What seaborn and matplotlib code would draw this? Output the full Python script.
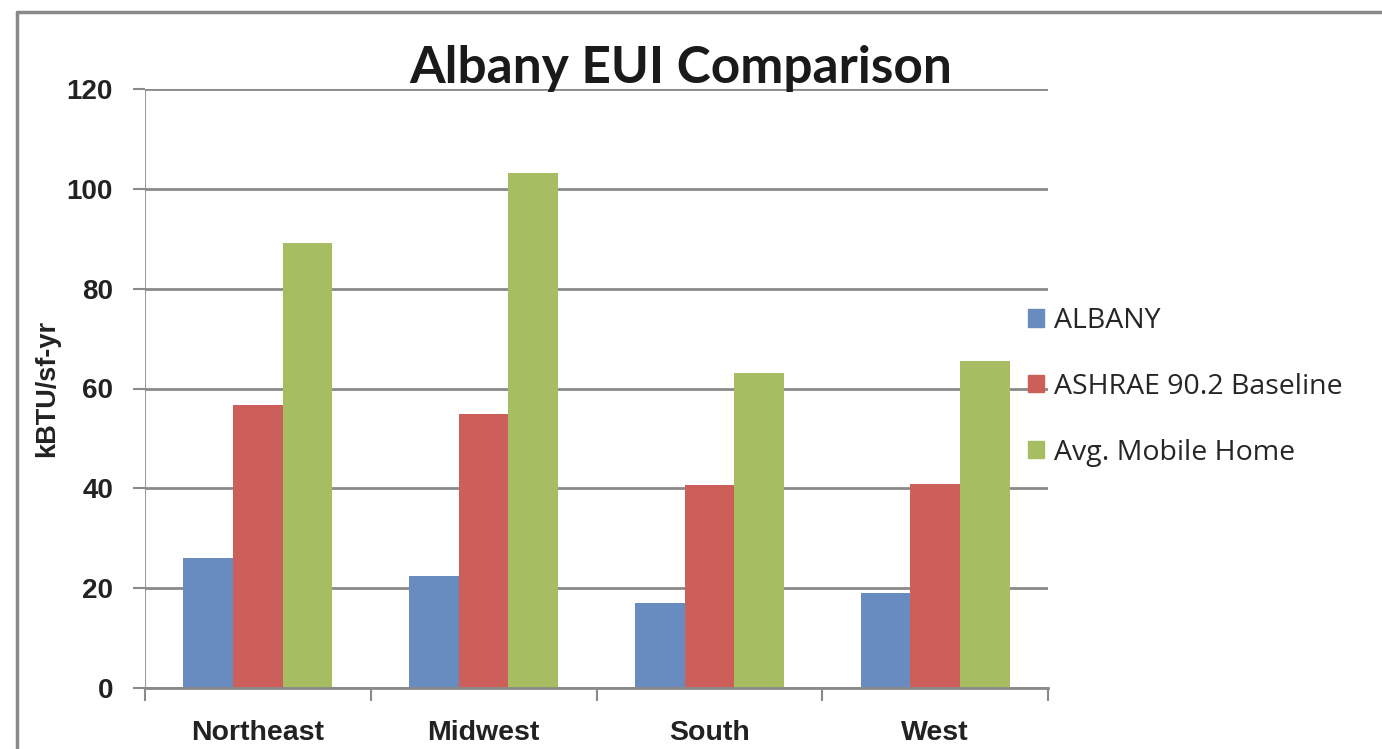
import matplotlib
matplotlib.use("Agg")
import matplotlib.pyplot as plt
import seaborn as sns
import pandas as pd
from matplotlib.lines import Line2D

regions = ["Northeast", "Midwest", "South", "West"]
series_names = ["ALBANY", "ASHRAE 90.2 Baseline", "Avg. Mobile Home"]
albany = [26.0, 22.5, 17.0, 19.0]
ashrae = [56.6, 54.8, 40.7, 40.8]
mobile = [89.2, 103.2, 63.2, 65.6]
yticks = [0, 20, 40, 60, 80, 100, 120]
colors = ["#688CBF", "#CD5F5B", "#A6BE61"]

rows = []
for name, vals in zip(series_names, [albany, ashrae, mobile]):
    for r, v in zip(regions, vals):
        rows.append({"Region": r, "Series": name, "Value": v})
df = pd.DataFrame(rows)

sns.set_theme(style="white")
plt.rcParams["font.family"] = ["Open Sans", "DejaVu Sans"]

fig = plt.figure(figsize=(13.82, 7.49), dpi=100)
ax = fig.add_axes([145/1382, 61/749, 903/1382, 599/749])

sns.barplot(data=df, x="Region", y="Value", hue="Series", order=regions,
            hue_order=series_names, palette=colors, width=0.66,
            saturation=1, ax=ax, legend=False, linewidth=0)

ax.set_ylim(0, 120)
ax.set_xlim(-0.5, 3.5)
ax.set_yticks(yticks)
ax.set_yticklabels([str(t) for t in yticks], fontsize=20, fontweight="bold",
                   color="#222222", family=["Liberation Sans"])
ax.yaxis.grid(True, color="#8a8a8a", linewidth=2)
ax.set_axisbelow(True)
for s in ["top", "right", "left"]:
    ax.spines[s].set_visible(False)
ax.spines["bottom"].set_color("#8a8a8a")
ax.spines["bottom"].set_linewidth(2)
ax.axvline(-0.5, color="#9a9a9a", linewidth=1.5, zorder=0)
ax.tick_params(axis="y", length=9, width=1.5, color="#8a8a8a", pad=14, left=True)
ax.set_xticks(range(len(regions)))
ax.set_xticklabels(regions, fontsize=20.5, fontweight="bold", color="#222222",
                   family=["Liberation Sans"])
ax.set_xticks([-0.5, 0.5, 1.5, 2.5, 3.5], minor=True)
ax.tick_params(axis="x", which="major", length=0, pad=23)
ax.tick_params(axis="x", which="minor", length=9, width=1.5, color="#8a8a8a",
               bottom=True)
ax.set_xlabel("")
ax.set_ylabel("kBTU/sf-yr", fontsize=19.5, fontweight="bold", color="#222222",
              family=["Liberation Sans"], labelpad=5)

fig.text(681/1382, 1 - 83/749, "Albany EUI Comparison", ha="center", va="baseline",
         fontsize=37, fontweight="bold", color="#1a1a1a", family=["Lato"])

handles = [plt.Rectangle((0, 0), 1, 1, color=c) for c in colors]
fig.legend(handles, series_names, loc="upper left",
           bbox_to_anchor=(1028/1382, 1 - 307/749), bbox_transform=fig.transFigure,
           frameon=False, fontsize=20.5, handlelength=0.55, handleheight=0.55,
           handletextpad=0.35, labelspacing=1.33, borderpad=0, borderaxespad=0)

# outer frame
fig.add_artist(Line2D([17/1382, 17/1382], [0, 1 - 12/749], transform=fig.transFigure,
                      color="#8a8a8a", linewidth=2.5))
fig.add_artist(Line2D([17/1382, 1], [1 - 12/749, 1 - 12/749], transform=fig.transFigure,
                      color="#8a8a8a", linewidth=2.5))

fig.savefig("out.png", dpi=100, facecolor="white")
